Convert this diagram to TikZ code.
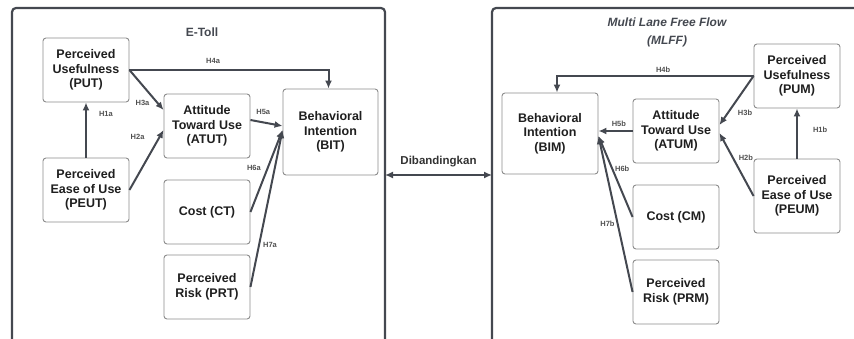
\documentclass[tikz,border=0pt]{standalone}
\usepackage{fontspec}
\setmainfont{Liberation Sans}
\usepackage{xcolor}
\usetikzlibrary{arrows.meta,positioning,calc}
\definecolor{framegray}{RGB}{68,72,80}
\definecolor{boxgray}{RGB}{140,140,140}
\definecolor{labelgray}{RGB}{80,80,80}
\tikzset{
    construct/.style={
        draw=boxgray,
        line width=0.9pt,
        rounded corners=3pt,
        align=center,
        fill=white,
        minimum width=86pt,
        minimum height=64pt,
        inner sep=2pt,
        text=black!88,
        font=\bfseries\fontsize{12.5}{14.5}\selectfont
    },
    hyp/.style={
        inner sep=1pt,
        text=labelgray,
        font=\bfseries\fontsize{7.5}{8}\selectfont
    },
    hyparrow/.style={
        -{Latex[length=8pt,width=7pt]},
        line width=2pt,
        draw=framegray
    },
    frame/.style={
        line width=2.2pt,
        draw=framegray,
        rounded corners=4pt
    },
    title/.style={
        align=center,
        text=framegray,
        font=\bfseries\fontsize{12}{15}\selectfont
    }
}

\begin{document}
\begin{tikzpicture}[x=1pt, y=-1pt]
    \useasboundingbox (0,0) rectangle (854,339);
    \clip (0,0) rectangle (854,339);

    % frames
    \draw[frame] (12,350) -- (12,8) -- (385,8) -- (385,350);
    \draw[frame] (492,350) -- (492,8) -- (870,8);
    \coordinate (lframe) at (385,175);
    \coordinate (rframe) at (492,175);
    \node[title] (etoll) at (202,32) {E-Toll};
    \node[title, font=\bfseries\itshape\fontsize{12}{18}\selectfont] (mlff) at (667,32) {Multi Lane Free Flow\\(MLFF)};

    % E-Toll
    \node[construct] (PUT) at (86,70) {Perceived\\Usefulness\\(PUT)};
    \node[construct] (PEUT) at (86,190) {Perceived\\Ease of Use\\(PEUT)};
    \node[construct] (ATUT) at (207,126) {Attitude\\Toward Use\\(ATUT)};
    \node[construct] (CT) at (207,212) {Cost (CT)};
    \node[construct] (PRT) at (207,287) {Perceived\\Risk (PRT)};
    \node[construct, minimum width=95pt, minimum height=86pt] (BIT) at (330.5,132) {Behavioral\\Intention\\(BIT)};

    \draw[hyparrow] (PEUT) -- (PUT) node[hyp, pos=.79, right=11pt] {H1a};
    \draw[hyparrow] (PEUT.east) -- ([yshift=-4pt]ATUT.west) node[hyp, pos=.88, left=13pt] {H2a};
    \draw[hyparrow] (PUT.east) -- ([yshift=16pt]ATUT.west) node[hyp, pos=.82, left=6pt] {H3a};
    \draw[hyparrow] (PUT.east) -| ([xshift=-2pt]BIT.north) node[hyp, pos=.21, above=4pt] {H4a};
    \draw[hyparrow] ([yshift=6pt]ATUT.east) -- ([yshift=6pt]BIT.west) node[hyp, pos=.4, above=6pt] {H5a};
    \draw[hyparrow] (CT.east) -- ([yshift=2pt]BIT.west) node[hyp, pos=.54, left=5pt] {H6a};
    \draw[hyparrow] (PRT.east) -- ([yshift=2pt]BIT.west) node[hyp, pos=.27, right=2pt] {H7a};

    % MLFF
    \node[construct] (PUM) at (797,76) {Perceived\\Usefulness\\(PUM)};
    \node[construct, minimum height=74pt] (PEUM) at (797,196) {Perceived\\Ease of Use\\(PEUM)};
    \node[construct] (ATUM) at (676,131) {Attitude\\Toward Use\\(ATUM)};
    \node[construct] (CM) at (676,217) {Cost (CM)};
    \node[construct] (PRM) at (676,292) {Perceived\\Risk (PRM)};
    \node[construct, minimum width=96pt, minimum height=81pt] (BIM) at (550,133.5) {Behavioral\\Intention\\(BIM)};

    \draw[hyparrow] (PEUM) -- (PUM) node[hyp, pos=.57, right=14pt] {H1b};
    \draw[hyparrow] (PEUM.west) -- ([yshift=-2pt]ATUM.east) node[hyp, pos=.61, right=4pt] {H2b};
    \draw[hyparrow] (PUM.west) -- ([yshift=6pt]ATUM.east) node[hyp, pos=.75, right=8pt] {H3b};
    \draw[hyparrow] (PUM.west) -| ([xshift=7pt]BIM.north) node[hyp, pos=.23, above=1pt] {H4b};
    \draw[hyparrow] (ATUM.west) -- ([yshift=2.5pt]BIM.east) node[hyp, pos=.4, above=2pt] {H5b};
    \draw[hyparrow] (CM.west) -- ([yshift=-2.5pt]BIM.east) node[hyp, pos=.6, right=1pt] {H6b};
    \draw[hyparrow] (PRM.west) -- ([yshift=-2.5pt]BIM.east) node[hyp, pos=.44, left=1pt] {H7b};

    % comparison
    \draw[hyparrow, {Latex[length=8pt,width=7pt]}-{Latex[length=8pt,width=7pt]}, line width=1.4pt] (lframe) -- (rframe)
        node[midway, above=4pt, title, text=black!80, font=\bfseries\fontsize{11.5}{14}\selectfont] (cmp) {Dibandingkan};
\end{tikzpicture}
\end{document}
